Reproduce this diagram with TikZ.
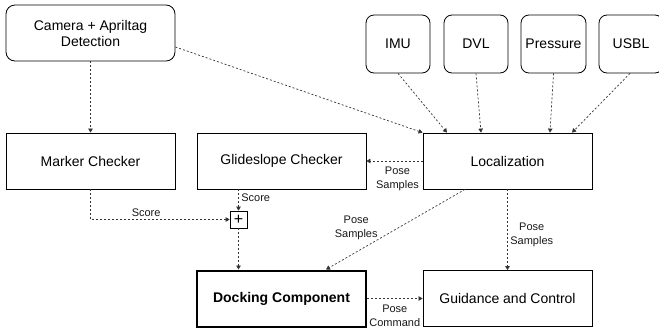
\documentclass[tikz,border=0pt]{standalone}
\usepackage{fontspec}
\setmainfont{Liberation Sans}
\usetikzlibrary{arrows.meta}
\begin{document}
\begin{tikzpicture}[x=1pt,y=-1pt,
  box/.style={draw=black, line width=0.8pt, minimum width=169pt, minimum height=56pt, inner sep=0pt, align=center, font=\fontsize{14}{16}\selectfont},
  rbox/.style={box, rounded corners=9pt},
  sbox/.style={rbox, minimum width=64pt, minimum height=58pt, rounded corners=8pt},
  plusbox/.style={draw=black, line width=0.7pt, minimum width=17pt, minimum height=17pt, inner sep=0pt, font=\fontsize{16}{16}\selectfont},
  flow/.style={draw=black!80, line width=0.7pt, dash pattern=on 2pt off 2pt, -{Triangle[length=4pt,width=4.5pt]}},
  lbl/.style={font=\fontsize{11}{14}\selectfont, align=center, inner sep=2.5pt, text=black!90}
]
\useasboundingbox (0,0) rectangle (659,335);
\fill[white] (0,0) rectangle (659,335);
\node[rbox] (cam) at (90.5,33) {Camera + Apriltag\\Detection};
\node[box] (marker) at (90.5,161) {Marker Checker};
\node[box] (glide) at (281.5,161) {Glideslope Checker};
\node[box] (loc) at (507.5,161) {Localization};
\node[sbox] (imu) at (398,44) {IMU};
\node[sbox] (dvl) at (476,44) {DVL};
\node[sbox, minimum width=65pt] (press) at (553.5,44) {Pressure};
\node[sbox] (usbl) at (631,44) {USBL};
\node[box, line width=2pt, minimum width=169pt, minimum height=56pt, font=\fontsize{14}{16}\selectfont\bfseries] (dock) at (281.5,298.5) {Docking Component};
\node[box] (guid) at (507.5,298.5) {Guidance and Control};
\node[plusbox] (plus) at (238.5,219.5) {+};

\draw[flow] ([yshift=-14pt]cam.east) -- (loc.north west);
\draw[flow] (cam.south) -- (marker.north);
\draw[flow] (imu.south) -- ([xshift=-60.5pt]loc.north);
\draw[flow] (dvl.south) -- ([xshift=-26.5pt]loc.north);
\draw[flow] (press.south) -- ([xshift=42.5pt]loc.north);
\draw[flow] ([xshift=-1pt]usbl.south) -- ([xshift=64.5pt]loc.north);
\draw[flow] (loc.west) -- node[lbl, below, xshift=3pt, yshift=-3pt] {Pose\\Samples} (glide.east);
\draw[flow] ([xshift=-43pt]glide.south) -- node[lbl, right, pos=0.4] {Score} (plus.north);
\draw[flow] (marker.south) |- node[lbl, above, pos=0.70] {Score} (plus.west);
\draw[flow] (plus.south) -- (plus.south |- dock.north);
\draw[flow] ([xshift=-42.5pt]loc.south) -- node[lbl, pos=0.45, left=22pt, yshift=-2pt] {Pose\\Samples} ([xshift=44.5pt]dock.north);
\draw[flow] (loc.south) -- node[lbl, pos=0.55, right, yshift=-1pt] {Pose\\Samples} (guid.north);
\draw[flow] (dock.east) -- node[lbl, below, yshift=-4pt] {Pose\\Command} (guid.west);
\end{tikzpicture}
\end{document}
